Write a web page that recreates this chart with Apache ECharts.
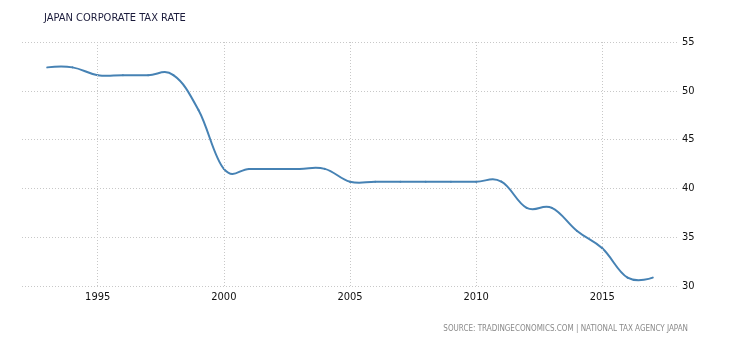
<!DOCTYPE html>
<html>
<head>
<meta charset="utf-8">
<script src="https://cdn.jsdelivr.net/npm/echarts@6/dist/echarts.min.js"></script>
<style>
  html, body { margin: 0; padding: 0; background: #fff; }
  #chart { width: 730px; height: 340px; }
</style>
</head>
<body>
<div id="chart"></div>
<script>
// Japan corporate tax rate, yearly (%)
const years = [1993, 1994, 1995, 1996, 1997, 1998, 1999, 2000, 2001, 2002, 2003, 2004,
               2005, 2006, 2007, 2008, 2009, 2010, 2011, 2012, 2013, 2014, 2015, 2016, 2017];
const taxRate = [52.4, 52.4, 51.6, 51.6, 51.6, 51.6, 48.0, 42.0, 42.0, 42.0, 42.0, 42.0,
                 40.69, 40.69, 40.69, 40.69, 40.69, 40.69, 40.69, 38.01, 38.01, 35.64, 33.86, 30.86, 30.86];
const yTicks = [30, 35, 40, 45, 50, 55];
const xTicks = [1995, 2000, 2005, 2010, 2015];

const chart = echarts.init(document.getElementById('chart'), null, { renderer: 'canvas' });

const dotted = { color: '#c8c8c8', type: [1, 2], width: 1 };
const FONT = 'DejaVu Sans Condensed, DejaVu Sans';

// Spline through the projected points: each point gets a pair of control
// points aligned on one tangent (smoothing factor 1.5), as in a classic
// chart spline, so gentle over/undershoot appears at the steps.
function renderSpline(params, api) {
  if (params.dataIndex !== 0) return null;
  const pts = years.map((y, i) => api.coord([y, taxRate[i]]));
  const s = 1.5, d = s + 1;
  const ctrl = pts.map((p, i) => {
    if (i === 0 || i === pts.length - 1) return null;
    const prev = pts[i - 1], next = pts[i + 1];
    const lx = (s * p[0] + prev[0]) / d, ly = (s * p[1] + prev[1]) / d;
    const rx = (s * p[0] + next[0]) / d, ry = (s * p[1] + next[1]) / d;
    const corr = ((ry - ly) * (rx - p[0])) / (rx - lx) + p[1] - ry;
    return { lx: lx, ly: ly + corr, rx: rx, ry: ry + corr };
  });
  const children = [];
  for (let i = 0; i < pts.length - 1; i++) {
    const a = pts[i], b = pts[i + 1];
    const c1 = ctrl[i] ? [ctrl[i].rx, ctrl[i].ry] : a;
    const c2 = ctrl[i + 1] ? [ctrl[i + 1].lx, ctrl[i + 1].ly] : b;
    children.push({
      type: 'bezierCurve',
      shape: { x1: a[0], y1: a[1], cpx1: c1[0], cpy1: c1[1], cpx2: c2[0], cpy2: c2[1], x2: b[0], y2: b[1] },
      style: { stroke: '#4682b4', lineWidth: 2, fill: null, lineCap: 'round' }
    });
  }
  return { type: 'group', children: children };
}

chart.setOption({
  animation: false,
  backgroundColor: '#ffffff',
  title: [{
    text: 'JAPAN CORPORATE TAX RATE',
    left: 39, top: 8,
    textStyle: { fontFamily: FONT, fontSize: 11, fontWeight: 'normal', color: '#1a1a3a' }
  }, {
    text: 'SOURCE: TRADINGECONOMICS.COM | NATIONAL TAX AGENCY JAPAN',
    right: 37, top: 320,
    textStyle: { fontFamily: FONT, fontSize: 8, fontWeight: 'normal', color: '#8a8a8a' }
  }],
  grid: { left: 22, right: 52, top: 42, bottom: 54 },
  xAxis: {
    type: 'value',
    min: 1992, max: 2018,
    interval: 1,
    axisLine: { show: false },
    axisTick: { show: false },
    splitLine: { show: false },
    axisLabel: {
      margin: 6,
      fontFamily: FONT, fontSize: 11, color: '#111',
      formatter: function (v) { return xTicks.indexOf(v) >= 0 ? String(v) : ''; }
    }
  },
  yAxis: {
    type: 'value',
    position: 'right',
    min: yTicks[0], max: yTicks[yTicks.length - 1], interval: 5,
    axisLine: { show: false },
    axisTick: { show: false },
    splitLine: { show: true, lineStyle: dotted },
    axisLabel: { margin: 4, fontFamily: FONT, fontSize: 11, color: '#111' }
  },
  series: [{
    type: 'custom',
    renderItem: renderSpline,
    data: years.map((y, i) => [y, taxRate[i]]),
    encode: { x: 0, y: 1 },
    silent: true,
    markLine: {
      silent: true,
      symbol: ['none', 'none'],
      label: { show: false },
      lineStyle: dotted,
      data: xTicks.map(v => ({ xAxis: v }))
    }
  }]
});
</script>
</body>
</html>
